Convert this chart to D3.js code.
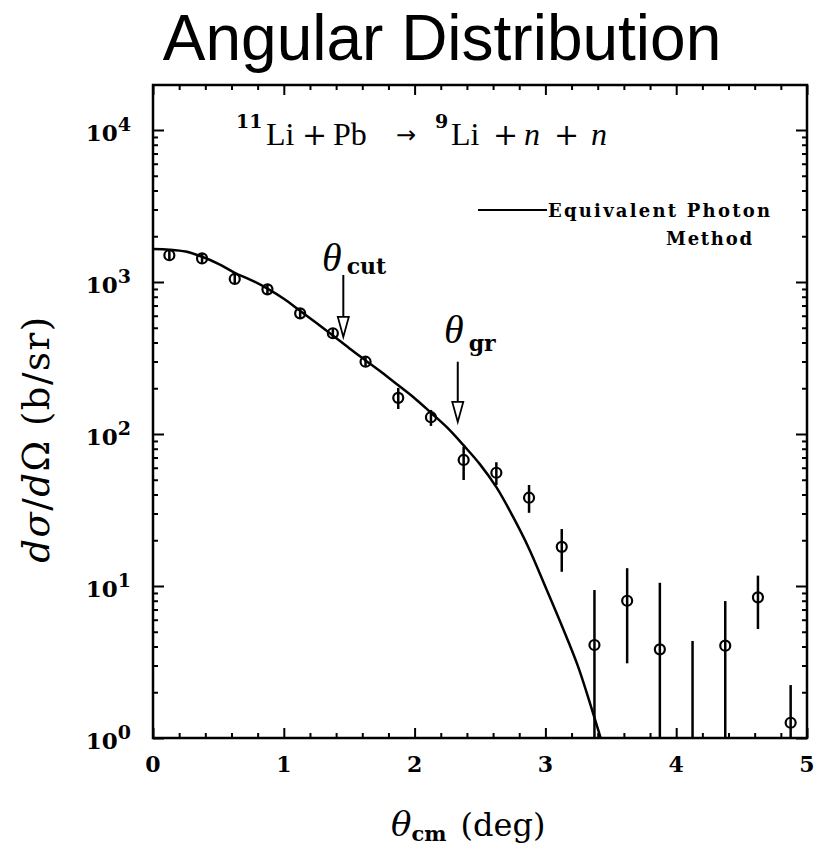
<!DOCTYPE html>
<html>
<head>
<meta charset="utf-8">
<script src="https://cdn.jsdelivr.net/npm/d3@7"></script>
<style>
  html, body { margin: 0; padding: 0; background: #fff; }
  svg { display: block; }
</style>
</head>
<body>
<svg id="chart" width="814" height="856"></svg>
<script>
// ---------------- DATA ----------------
const thetaBins = [0.125, 0.375, 0.625, 0.875, 1.125, 1.375, 1.625, 1.875, 2.125, 2.375,
                   2.625, 2.875, 3.125, 3.375, 3.625, 3.875, 4.125, 4.375, 4.625, 4.875];
const xsecValues = [1500, 1430, 1047, 895, 622, 460, 299, 173, 129, 67.5,
                    55.6, 38.1, 18.1, 4.09, 8.0, 3.83, null, 4.05, 8.42, 1.26];
const xsecHigh = [1600, 1530, 1120, 958, 666, 492, 320, 201, 144, 82.5,
                  65.2, 46.2, 23.7, 9.41, 13.1, 10.5, 4.35, 7.96, 11.7, 2.23];
const xsecLow = [1402, 1336, 978, 836, 581, 430, 279, 146, 113, 49.8,
                 46.2, 30.3, 12.4, 0.5, 3.1, 0.5, 0.5, 0.5, 5.21, 0.5];

const curveTheta = [0, 0.125, 0.25, 0.375, 0.5, 0.625, 0.75, 0.875, 1.0, 1.125, 1.25, 1.375,
                    1.5, 1.625, 1.75, 1.875, 2.0, 2.125, 2.25, 2.375, 2.5, 2.625, 2.75, 2.875,
                    3.0, 3.125, 3.25, 3.375, 3.5];
const curveValues = [1648, 1633, 1585, 1466, 1318, 1150, 1030, 905, 776, 646, 537, 445,
                     367, 305, 254, 209, 172, 138, 110, 84.1, 63.1, 44.7, 28.8, 17.6,
                     9.89, 5.50, 2.95, 1.36, 0.60];

const xTicks = [0, 1, 2, 3, 4, 5];
const yTicks = [1, 10, 100, 1000, 10000];

// annotation arrows: [theta, top value, tip value]
const arrowCut = [1.455, 1112, 435];
const arrowGr = [2.33, 299, 120];

// ---------------- LAYOUT ----------------
const svg = d3.select("#chart");
const L = 153, R = 807, T = 85, B = 738;
const x = d3.scaleLinear().domain([0, 5]).range([L, R]);
const yTop = Math.pow(10, (B - T) / 152);
const y = d3.scaleLog().domain([1, yTop]).range([B, T]);

const serif = "'Liberation Serif', 'DejaVu Serif', serif";
const dserif = "'DejaVu Serif', serif";

// title
svg.append("text")
  .attr("x", 442).attr("y", 60)
  .attr("text-anchor", "middle")
  .attr("font-family", "'Liberation Sans', Arial, sans-serif")
  .attr("font-size", 64)
  .text("Angular Distribution");

// clip
svg.append("clipPath").attr("id", "clip")
  .append("rect").attr("x", L).attr("y", T).attr("width", R - L).attr("height", B - T);

// ----- axes (ticks inward) -----
const minorX = d3.range(0, 5.0001, 0.2).filter(v => Math.abs(v - Math.round(v)) > 1e-6);
const minorY = [];
for (let k = 0; k <= 4; k++) for (let m = 2; m <= 9; m++) {
  const v = m * Math.pow(10, k);
  if (v < yTop) minorY.push(v);
}

function styleAxis(g) {
  g.select(".domain").remove();
  g.selectAll(".tick line").attr("stroke", "#000").attr("stroke-width", 2);
  g.selectAll(".tick text").remove();
}

svg.append("g").attr("transform", `translate(0,${B})`)
  .call(d3.axisBottom(x).tickValues(xTicks).tickSize(-10).tickFormat("")).call(styleAxis);
svg.append("g").attr("transform", `translate(0,${B})`)
  .call(d3.axisBottom(x).tickValues(minorX).tickSize(-5).tickFormat("")).call(styleAxis);
svg.append("g").attr("transform", `translate(0,${T})`)
  .call(d3.axisTop(x).tickValues(xTicks).tickSize(-10).tickFormat("")).call(styleAxis);
svg.append("g").attr("transform", `translate(0,${T})`)
  .call(d3.axisTop(x).tickValues(minorX).tickSize(-5).tickFormat("")).call(styleAxis);

svg.append("g").attr("transform", `translate(${L},0)`)
  .call(d3.axisLeft(y).tickValues(yTicks).tickSize(-11).tickFormat("")).call(styleAxis);
svg.append("g").attr("transform", `translate(${L},0)`)
  .call(d3.axisLeft(y).tickValues(minorY).tickSize(-5).tickFormat("")).call(styleAxis);
svg.append("g").attr("transform", `translate(${R},0)`)
  .call(d3.axisRight(y).tickValues(yTicks).tickSize(-11).tickFormat("")).call(styleAxis);
svg.append("g").attr("transform", `translate(${R},0)`)
  .call(d3.axisRight(y).tickValues(minorY).tickSize(-5).tickFormat("")).call(styleAxis);

// frame
svg.append("rect").attr("x", L).attr("y", T).attr("width", R - L).attr("height", B - T)
  .attr("fill", "none").attr("stroke", "#000").attr("stroke-width", 2.5);

// x tick labels
svg.append("g").selectAll("text").data(xTicks).join("text")
  .attr("x", d => x(d)).attr("y", B + 34)
  .attr("text-anchor", "middle")
  .attr("font-family", dserif).attr("font-weight", "bold").attr("font-size", 22)
  .text(d => d);

// y tick labels 10^k
const yl = svg.append("g").selectAll("text").data(yTicks).join("text")
  .attr("x", 131).attr("y", d => y(d) + 11)
  .attr("text-anchor", "end")
  .attr("font-family", dserif).attr("font-weight", "bold").attr("font-size", 23);
yl.append("tspan").text("10");
yl.append("tspan").attr("dy", -10).attr("font-size", 19).text(d => Math.round(Math.log10(d)));

// axis titles
const xt = svg.append("text").attr("x", 391).attr("y", 836)
  .attr("font-family", dserif).attr("font-size", 32);
xt.append("tspan").attr("font-style", "italic").attr("font-size", 34).text("θ");
xt.append("tspan").attr("dy", 5).attr("font-weight", "bold")
  .attr("font-size", 21).text("cm");
xt.append("tspan").attr("dy", -5).attr("dx", 14).text("(deg)");

const ytl = svg.append("text")
  .attr("transform", "translate(49,439) rotate(-90)")
  .attr("text-anchor", "middle")
  .attr("font-family", dserif).attr("font-size", 37)
  .attr("letter-spacing", 1.5);
ytl.append("tspan").attr("font-style", "italic").text("dσ");
ytl.append("tspan").text("/");
ytl.append("tspan").attr("font-style", "italic").text("d");
ytl.append("tspan").text("Ω (b/sr)");

// ----- plot contents -----
const plot = svg.append("g").attr("clip-path", "url(#clip)");

const line = d3.line()
  .x((d, i) => x(curveTheta[i]))
  .y(d => y(d))
  .curve(d3.curveCatmullRom);
plot.append("path").datum(curveValues)
  .attr("d", line).attr("fill", "none").attr("stroke", "#000").attr("stroke-width", 2.5);

// error bars
plot.append("g").selectAll("line").data(thetaBins).join("line")
  .attr("x1", d => x(d)).attr("x2", d => x(d))
  .attr("y1", (d, i) => y(xsecHigh[i]))
  .attr("y2", (d, i) => y(xsecLow[i]))
  .attr("stroke", "#000").attr("stroke-width", 2.5);

// circles
const pts = thetaBins.map((t, i) => ({ t, v: xsecValues[i] })).filter(p => p.v != null);
plot.append("g").selectAll("circle").data(pts).join("circle")
  .attr("cx", d => x(d.t)).attr("cy", d => y(d.v)).attr("r", 5)
  .attr("fill", "none").attr("stroke", "#000").attr("stroke-width", 2.2);

// ----- annotations -----
function arrow(a) {
  const ax = x(a[0]), y0 = y(a[1]), y1 = y(a[2]);
  const hl = 20, hw = 5.5;
  svg.append("line").attr("x1", ax).attr("x2", ax).attr("y1", y0).attr("y2", y1 - hl)
    .attr("stroke", "#000").attr("stroke-width", 2);
  svg.append("path")
    .attr("d", `M${ax - hw},${y1 - hl} L${ax + hw},${y1 - hl} L${ax},${y1} Z`)
    .attr("fill", "#fff").attr("stroke", "#000").attr("stroke-width", 1.8);
}
arrow(arrowCut);
arrow(arrowGr);

function thetaLabel(px, py, sub, subDy) {
  const t = svg.append("text").attr("x", px).attr("y", py)
    .attr("font-family", serif).attr("font-size", 40);
  t.append("tspan").attr("font-style", "italic").text("θ");
  t.append("tspan").attr("dy", subDy).attr("dx", 5).attr("font-family", dserif)
    .attr("font-weight", "bold").attr("font-size", 22).text(sub);
}
thetaLabel(322, 271, "cut", 3);
thetaLabel(444, 343, "gr", 8);

// reaction
const rx = svg.append("text").attr("y", 145).attr("font-family", serif).attr("font-size", 32);
rx.append("tspan").attr("x", 236).attr("y", 128).attr("font-family", dserif)
  .attr("font-weight", "bold").attr("font-size", 19).text("11");
rx.append("tspan").attr("x", 266).attr("y", 145).text("Li");
rx.append("tspan").attr("x", 302).attr("font-family", dserif).attr("font-size", 30).text("+");
rx.append("tspan").attr("x", 333).text("Pb");
rx.append("tspan").attr("x", 396).attr("y", 143).attr("font-family", "'DejaVu Sans', sans-serif")
  .attr("font-size", 24).text("→");
rx.append("tspan").attr("x", 435).attr("y", 128).attr("font-family", dserif)
  .attr("font-weight", "bold").attr("font-size", 19).text("9");
rx.append("tspan").attr("x", 451).attr("y", 145).text("Li");
rx.append("tspan").attr("x", 493).attr("font-family", dserif).attr("font-size", 30).text("+");
rx.append("tspan").attr("x", 524).attr("font-style", "italic").text("n");
rx.append("tspan").attr("x", 554).attr("font-family", dserif).attr("font-size", 30).text("+");
rx.append("tspan").attr("x", 591).attr("font-style", "italic").text("n");

// legend
svg.append("line").attr("x1", 478).attr("x2", 547).attr("y1", 210).attr("y2", 210)
  .attr("stroke", "#000").attr("stroke-width", 2.2);
svg.append("text").attr("x", 548).attr("y", 217)
  .attr("font-family", dserif).attr("font-weight", "bold").attr("font-size", 18)
  .attr("textLength", 222).attr("lengthAdjust", "spacing")
  .text("Equivalent Photon");
svg.append("text").attr("x", 666).attr("y", 245)
  .attr("font-family", dserif).attr("font-weight", "bold").attr("font-size", 18)
  .attr("textLength", 86).attr("lengthAdjust", "spacing")
  .text("Method");
</script>
</body>
</html>
